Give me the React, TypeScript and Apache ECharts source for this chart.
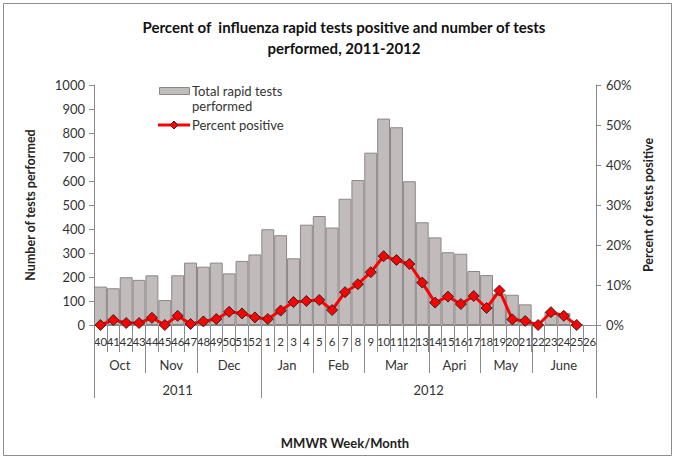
import React, { useEffect, useRef } from "react";
import * as echarts from "echarts";

const weeks = ["40","41","42","43","44","45","46","47","48","49","50","51","52","1","2","3","4","5","6","7","8","9","10","11","12","13","14","15","16","17","18","19","20","21","22","23","24","25","26"];
const testsPerformed = [160,153,199,188,207,104,207,260,243,260,215,267,294,399,374,278,418,454,406,526,604,718,860,824,599,428,365,303,297,225,208,130,126,86,3,55,50,3,null];
const percentPositive = [0,1.25,0.5,0.5,1.8,0,2.3,0.25,0.9,1.5,3.3,2.9,1.9,1.5,3.6,5.75,6,6.25,3.75,8.2,10.2,13.2,17.2,16.25,15.25,10.6,5.6,7.1,5.25,7.25,4.25,8.6,1.4,1.0,0,3.2,2.3,0,null];
const months = ["Oct","Nov","Dec","Jan","Feb","Mar","Apri","May","June"];
const monthWeekCounts = [4,4,5,4,4,5,4,4,5];
const years = ["2011","2012"];
const yearWeekCounts = [13,26];
const leftTicks = [0, 1000, 100];
const rightTicks = [0, 60, 10];

const FONT = "Lato, 'Liberation Sans', sans-serif";
const BAR_FILL = "#c2bbbb";
const BAR_EDGE = "#8c8686";
const AXIS = "#8a8a8a";
const TXT = "#333333";

function spans(counts: number[]) {
  const out: number[][] = [];
  let s = 0;
  counts.forEach((c) => { out.push([s, s + c - 1]); s += c; });
  return out;
}

export default function App() {
  const ref = useRef<HTMLDivElement>(null);
  useEffect(() => {
    if (!ref.current) return;
    const chart = echarts.init(ref.current, undefined, { renderer: "svg" });
    const monthSpans = spans(monthWeekCounts);
    const yearSpans = spans(yearWeekCounts);
    const groupRender = (labels: string[], textOff: number, lineLen: number) => (params: any, api: any) => {
      const s = api.value(0), e = api.value(1);
      const band = api.size([1, 0])[0];
      const p0 = api.coord([s, 0]);
      const p1 = api.coord([e, 0]);
      const x0 = p0[0] - band / 2, x1 = p1[0] + band / 2;
      const y0 = p0[1];
      const children: any[] = [
        { type: "text", style: { text: labels[params.dataIndex], x: (x0 + x1) / 2, y: y0 + textOff, textAlign: "center", textVerticalAlign: "middle", font: `13px ${FONT}`, fill: TXT } },
        { type: "line", shape: { x1: Math.round(x0) + 0.5, y1: y0, x2: Math.round(x0) + 0.5, y2: y0 + lineLen }, style: { stroke: AXIS, lineWidth: 1 } },
      ];
      if (params.dataIndex === labels.length - 1) {
        children.push({ type: "line", shape: { x1: Math.round(x1) + 0.5, y1: y0, x2: Math.round(x1) + 0.5, y2: y0 + lineLen }, style: { stroke: AXIS, lineWidth: 1 } });
      }
      return { type: "group", children };
    };
    chart.setOption({
      animation: false,
      grid: { left: 94, right: 80, top: 85, bottom: 136, containLabel: false },
      xAxis: {
        type: "category",
        data: weeks,
        boundaryGap: true,
        axisLine: { lineStyle: { color: AXIS } },
        axisTick: { show: true, interval: 0, length: 27, alignWithLabel: false, lineStyle: { color: AXIS } },
        axisLabel: { interval: 0, margin: 10, fontSize: 11.5, fontFamily: FONT, color: TXT },
        name: "MMWR Week/Month",
        nameLocation: "middle",
        nameGap: 111,
        nameTextStyle: { fontSize: 13, fontWeight: "bold", fontFamily: FONT, color: "#222" },
      },
      yAxis: [
        {
          type: "value", min: leftTicks[0], max: leftTicks[1], interval: leftTicks[2],
          axisLine: { show: true, lineStyle: { color: AXIS } },
          axisTick: { show: true, length: 5, lineStyle: { color: AXIS } },
          splitLine: { show: false },
          axisLabel: { fontSize: 13, fontFamily: FONT, color: TXT, margin: 9, formatter: (v: number) => String(v) },
          name: "Number of tests performed", nameLocation: "middle", nameRotate: 90, nameGap: 57,
          nameTextStyle: { fontSize: 12.5, fontWeight: "bold", fontFamily: FONT, color: "#222" },
        },
        {
          type: "value", min: rightTicks[0], max: rightTicks[1], interval: rightTicks[2], position: "right",
          axisLine: { show: true, lineStyle: { color: AXIS } },
          axisTick: { show: true, length: 5, lineStyle: { color: AXIS } },
          splitLine: { show: false },
          axisLabel: { fontSize: 13, fontFamily: FONT, color: TXT, margin: 10, formatter: "{value}%" },
          name: "Percent of tests positive", nameLocation: "middle", nameRotate: 90, nameGap: 58,
          nameTextStyle: { fontSize: 12.5, fontWeight: "bold", fontFamily: FONT, color: "#222", verticalAlign: "bottom" },
        },
      ],
      series: [
        {
          name: "Total rapid tests performed", type: "bar", data: testsPerformed, yAxisIndex: 0,
          barCategoryGap: "0%",
          itemStyle: { color: BAR_FILL, borderColor: BAR_EDGE, borderWidth: 1 },
        },
        {
          name: "Percent positive", type: "line", data: percentPositive, yAxisIndex: 1,
          symbol: "diamond", symbolSize: 11, showAllSymbol: true,
          lineStyle: { color: "#ff0000", width: 3 },
          itemStyle: { color: "#ff0000", borderColor: "#2a2a2a", borderWidth: 1 },
        },
        {
          type: "custom", clip: false, silent: true, xAxisIndex: 0, yAxisIndex: 0,
          encode: { x: [0, 1] },
          data: monthSpans,
          renderItem: groupRender(months, 40, 48),
        },
        {
          type: "custom", clip: false, silent: true, xAxisIndex: 0, yAxisIndex: 0,
          encode: { x: [0, 1] },
          data: yearSpans,
          renderItem: groupRender(years, 65, 73),
        },
      ],
      graphic: [
        { type: "rect", shape: { x: 3.5, y: 3.5, width: 668, height: 452 }, style: { fill: "none", stroke: "#8c8c8c", lineWidth: 1 }, silent: true },
        { type: "text", x: 344, y: 16, style: { text: "Percent of  influenza rapid tests positive and number of tests\nperformed, 2011-2012", textAlign: "center", font: `bold 15px ${FONT}`, lineHeight: 21, fill: "#111" } },
        { type: "rect", shape: { x: 159.5, y: 87.5, width: 30, height: 7 }, style: { fill: BAR_FILL, stroke: BAR_EDGE, lineWidth: 1 } },
        { type: "text", x: 192, y: 83, style: { text: "Total rapid tests\nperformed", font: `13px ${FONT}`, lineHeight: 15, fill: TXT } },
        { type: "line", shape: { x1: 158, y1: 125, x2: 190, y2: 125 }, style: { stroke: "#ff0000", lineWidth: 3 } },
        { type: "polygon", shape: { points: [[174, 121], [178, 125], [174, 129], [170, 125]] }, style: { fill: "#ff0000", stroke: "#2a2a2a", lineWidth: 1 } },
        { type: "text", x: 192, y: 118, style: { text: "Percent positive", font: `13px ${FONT}`, fill: TXT } },
      ],
    });
    return () => chart.dispose();
  }, []);
  return <div ref={ref} style={{ position: "fixed", left: 0, top: 0, width: 676, height: 461, background: "#fff" }} />;
}
